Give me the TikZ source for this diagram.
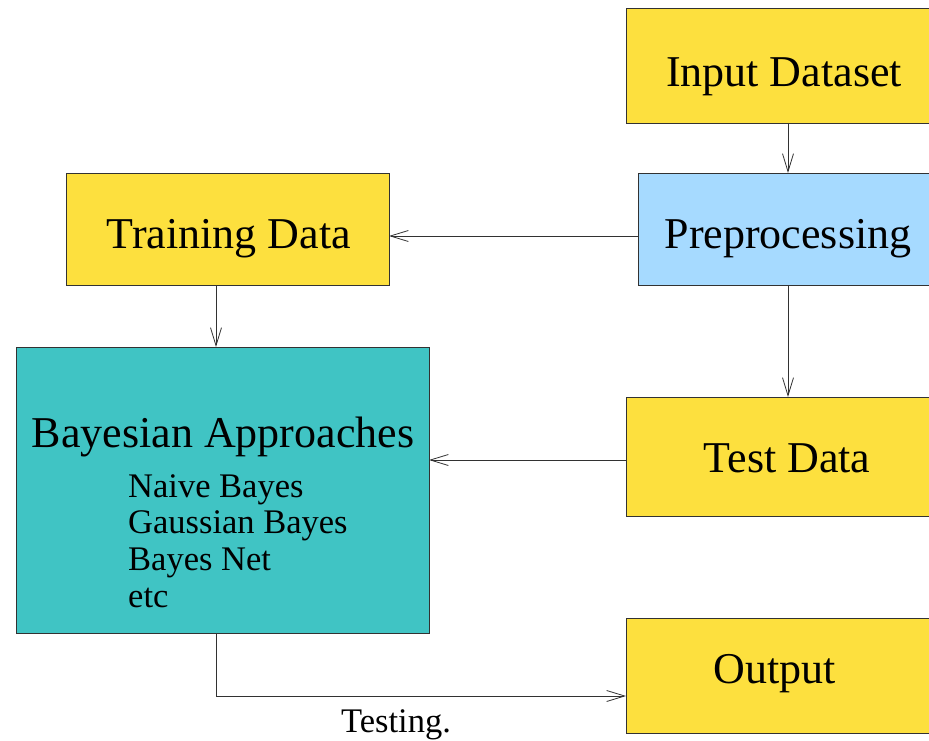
\documentclass[tikz,border=0pt]{standalone}
\usepackage{fontspec}
\setmainfont{Liberation Serif}
\usetikzlibrary{arrows.meta}
\definecolor{fyellow}{RGB}{253,224,62}
\definecolor{fblue}{RGB}{166,218,255}
\definecolor{fteal}{RGB}{64,196,196}
\definecolor{fline}{RGB}{50,50,50}
\begin{document}
\begin{tikzpicture}[x=1pt,y=-1pt,
  box/.style={draw=fline, line width=1.1pt, inner sep=0pt, anchor=north west},
  big/.style={font=\fontsize{44}{50}\selectfont, inner sep=0pt, anchor=base},
  small/.style={font=\fontsize{34.5}{37}\selectfont, inner sep=0pt, anchor=base west},
  arr/.style={-{Straight Barb[length=18pt,width=11pt]}, line width=0.8pt, draw=fline},
]
\clip (0,0) rectangle (929,741);
\fill[white] (0,0) rectangle (929,741);
% boxes
\node[box, fill=fyellow, minimum width=330pt, minimum height=115pt] (input) at (626,8) {};
\node[box, fill=fblue, minimum width=300pt, minimum height=112pt] (pre) at (638,173) {};
\node[box, fill=fyellow, minimum width=323pt, minimum height=112pt] (train) at (66,173) {};
\node[box, fill=fteal, minimum width=413pt, minimum height=286pt] (bayes) at (16,347) {};
\node[box, fill=fyellow, minimum width=330pt, minimum height=119pt] (test) at (626,397) {};
\node[box, fill=fyellow, minimum width=330pt, minimum height=115pt] (output) at (626,618) {};
% texts
\node[big] (tinput) at (784,87) {Input Dataset};
\node[big] (tpre) at (788,248) {Preprocessing};
\node[big] (ttrain) at (229,248) {Training Data};
\node[big] (tbayes) at (223,447) {Bayesian Approaches};
\node[small] (s1) at (128,497) {Naive Bayes};
\node[small] (s2) at (128,533) {Gaussian Bayes};
\node[small] (s3) at (128,570) {Bayes Net};
\node[small] (s4) at (128,607) {etc};
\node[big] (ttest) at (787,472) {Test Data};
\node[big] (tout) at (775,683) {Output};
\node[font=\fontsize{34.5}{37}\selectfont, inner sep=0pt, anchor=base] (ttesting) at (396,732) {Testing.};
% connectors
\coordinate (c1) at (788,123);
\coordinate (c2) at (788,173);
\draw[arr] (c1) -- (c2);
\coordinate (c3) at (638,236);
\coordinate (c4) at (389,236);
\draw[arr] (c3) -- (c4);
\coordinate (c5) at (788,285);
\coordinate (c6) at (788,397);
\draw[arr] (c5) -- (c6);
\coordinate (c7) at (216,285);
\coordinate (c8) at (216,347);
\draw[arr] (c7) -- (c8);
\coordinate (c9) at (626,460);
\coordinate (c10) at (429,460);
\draw[arr] (c9) -- (c10);
\coordinate (c11) at (216,633);
\coordinate (c12) at (626,696);
\draw[arr] (c11) |- (c12);
\end{tikzpicture}
\end{document}
